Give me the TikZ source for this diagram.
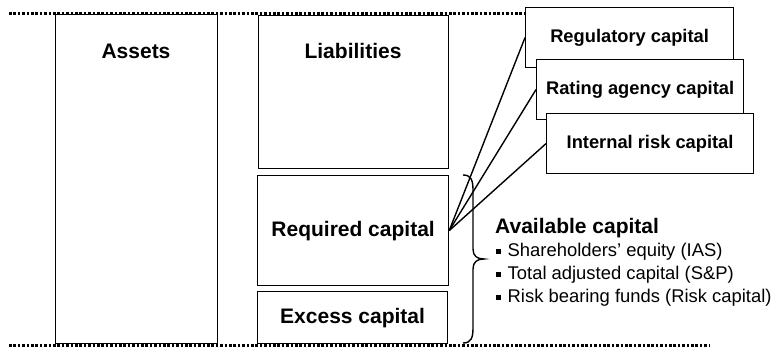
\documentclass[tikz,border=0pt]{standalone}
\usepackage{fontspec}
\setmainfont{Liberation Sans}
\begin{document}
\begin{tikzpicture}[x=1pt,y=-1pt,
  box/.style={draw=black, line width=1.2pt, fill=white, inner sep=0pt, anchor=north west},
  bigtxt/.style={font=\fontsize{21}{25}\selectfont\bfseries, inner sep=0pt},
  smalltxt/.style={font=\fontsize{18.3}{22}\selectfont\bfseries},
  listtxt/.style={font=\fontsize{18.4}{22}\selectfont, inner sep=0pt, anchor=west},
  link/.style={draw=black, line width=1.4pt},
  divider/.style={line width=3pt, dash pattern=on 2.6pt off 1.8pt}]
\useasboundingbox (0,0) rectangle (776,348);

% balance sheet columns
\node[box, minimum width=162pt, minimum height=329pt] (assets) at (55,14) {};
\node[bigtxt] (assetslbl) at (136,51) {Assets};
\node[box, minimum width=190pt, minimum height=153pt] (liab) at (258,15) {};
\node[bigtxt] (liablbl) at (353,51) {Liabilities};
\node[box, bigtxt, minimum width=191pt, minimum height=110pt] (req) at (257,175) {Required capital};
\node[box, bigtxt, minimum width=190pt, minimum height=52pt] (excess) at (257,291) {Excess capital};

% capital measures, stacked
\node[box, smalltxt, minimum width=208pt, minimum height=60pt] (reg) at (525,7) {Regulatory capital};
\node[box, smalltxt, minimum width=207pt, minimum height=60pt] (rating) at (536,59) {Rating agency capital};
\node[box, smalltxt, minimum width=207pt, minimum height=60pt] (internal) at (546,113) {Internal risk capital};

\draw[link] (req.east) -- (reg.west);
\draw[link] (req.east) -- (rating.west);
\draw[link] (req.east) -- (internal.west);

% brace grouping required and excess capital
\draw[line width=1.4pt] (463,175) .. controls (471,175) and (473,180) .. (473,190)
  -- (473,249) .. controls (473,256) and (477,259) .. (484,259)
  .. controls (477,259) and (473,262) .. (473,269)
  -- (473,328) .. controls (473,338) and (471,343) .. (463,343);

% available capital list
\node[bigtxt, anchor=west] (avail) at (495,228) {Available capital};
\node[listtxt] (item1) at (496,252) {\raisebox{2.5pt}{\rule{5pt}{5pt}}\hspace{6.5pt}Shareholders’ equity (IAS)};
\node[listtxt] (item2) at (496,275) {\raisebox{2.5pt}{\rule{5pt}{5pt}}\hspace{6.5pt}Total adjusted capital (S\&P)};
\node[listtxt] (item3) at (496,298) {\raisebox{2.5pt}{\rule{5pt}{5pt}}\hspace{6.5pt}Risk bearing funds (Risk capital)};

% dotted frame lines
\coordinate (topl) at (9,13.5);
\coordinate (botl) at (9,345);
\coordinate (botr) at (710,345);
\draw[divider] (topl) -- (topl -| reg.west);
\draw[divider] (botl) -- (botr);
\end{tikzpicture}
\end{document}
